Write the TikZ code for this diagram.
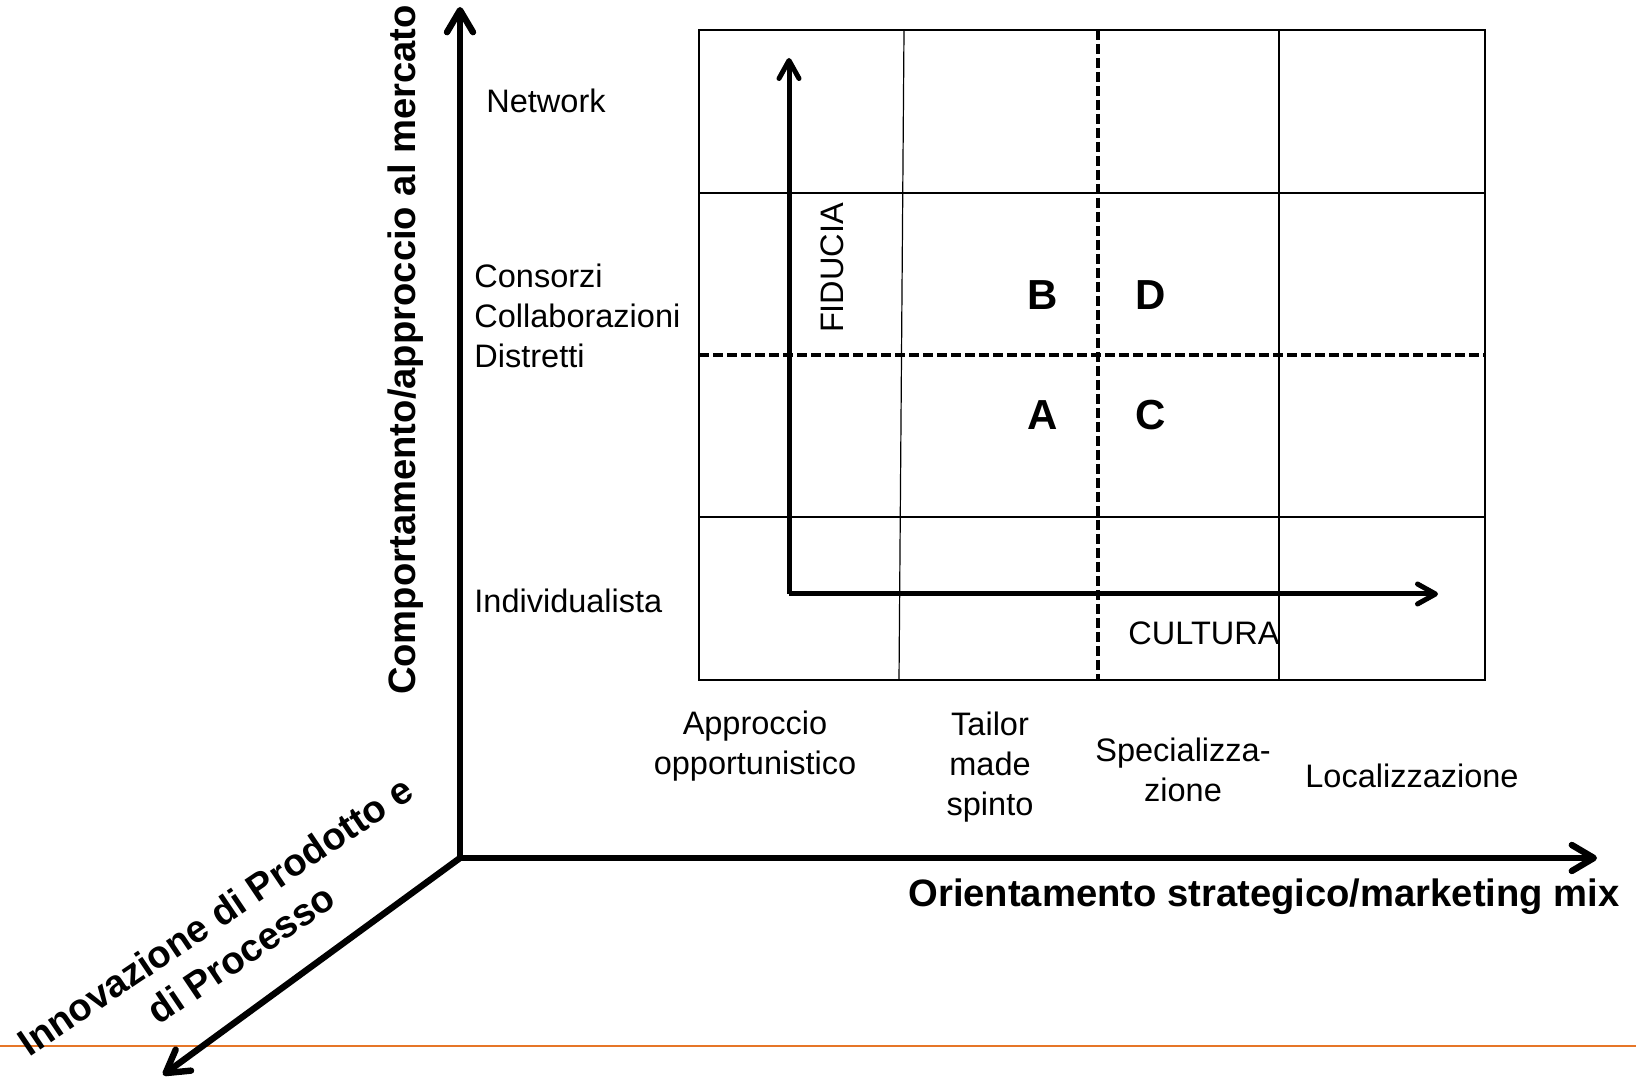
\documentclass[tikz,border=0pt]{standalone}
\usepackage{fontspec}
\setmainfont{Liberation Sans}
\usetikzlibrary{arrows.meta}

\definecolor{footer}{RGB}{230,118,40}

\tikzset{
  axis/.style={line width=3.2pt, -{Straight Barb[length=11pt,width=13pt,round]}},
  subaxis/.style={line width=2.5pt, -{Straight Barb[length=9pt,width=10pt,round]}},
  cell/.style={line width=0.6pt},
  split/.style={line width=2.3pt, dash pattern=on 5pt off 2pt},
  txt/.style={inner sep=0pt, font=\fontsize{16.25}{20}\selectfont},
  axtxt/.style={inner sep=0pt, font=\fontsize{19.1}{23}\selectfont\bfseries},
  quad/.style={inner sep=0pt, font=\fontsize{21}{25}\selectfont\bfseries},
}

\begin{document}
\begin{tikzpicture}[x=0.5pt, y=0.5pt]
	\useasboundingbox (0,0) rectangle (1636,1080);
	\fill[white] (0,0) rectangle (1636,1080);
% footer rule
	\draw[footer, line width=1pt] (0,34) -- (1636,34);

% draw grid lines
	\draw[cell] (699,400) rectangle (1485,1050);
	\draw[cell] (904,1050) -- (899,400);
	\draw[cell] (1279,1050) -- (1279,400);
	\draw[cell] (699,887) -- (1485,887);
	\draw[cell] (699,563) -- (1485,563);
% dashed split into quadrants
	\draw[split] (1098,1050) -- (1098,400);
	\draw[split] (699,725) -- (1485,725);

% draw main axes
	\coordinate (O) at (460,222);
	\coordinate (top) at (460,1073);
	\coordinate (right) at (1597,222);
	\coordinate (down) at (163,5);
	\draw[axis] (O) -- (top);
	\draw[axis] (O) -- (right);
	\draw[axis] (O) -- (down);

% draw inner axes
	\coordinate (o) at (789,486);
	\coordinate (fid) at (789,1022);
	\coordinate (cul) at (1438,486);
	\draw[subaxis] (o) -- (fid);
	\draw[subaxis] (o) -- (cul);
	\node[txt, rotate=90] (fiducia) at (832,812) {FIDUCIA};
	\node[txt] (cultura) at (1204,447) {CULTURA};

% quadrant letters
	\node[quad] (qB) at (1043,785) {B};
	\node[quad] (qD) at (1151,785) {D};
	\node[quad] (qA) at (1043,665) {A};
	\node[quad] (qC) at (1151,665) {C};

% levels on the vertical axis
	\node[txt, anchor=west] (network) at (486,979) {Network};
	\node[txt, anchor=west, align=left] (consorzi) at (474,764) {Consorzi\\Collaborazioni\\Distretti};
	\node[txt, anchor=west] (indiv) at (474,479) {Individualista};

% levels under the grid
	\node[txt, align=center] (oppo) at (755,334) {Approccio\\opportunistico};
	\node[txt, align=center] (tailor) at (990,313) {Tailor\\made\\spinto};
	\node[txt, align=center] (spec) at (1183,310) {Specializza-\\zione};
	\node[txt] (local) at (1412,304) {Localizzazione};

% axis titles
	\node[axtxt, rotate=90] (ytitle) at (406,730) {Comportamento/approccio al mercato};
	\node[axtxt] (xtitle) at (1264,183) {Orientamento strategico/marketing mix};
	\node[axtxt, rotate=34, align=center] (ztitle) at (228,145) {Innovazione di Prodotto e\\di Processo};
\end{tikzpicture}
\end{document}
